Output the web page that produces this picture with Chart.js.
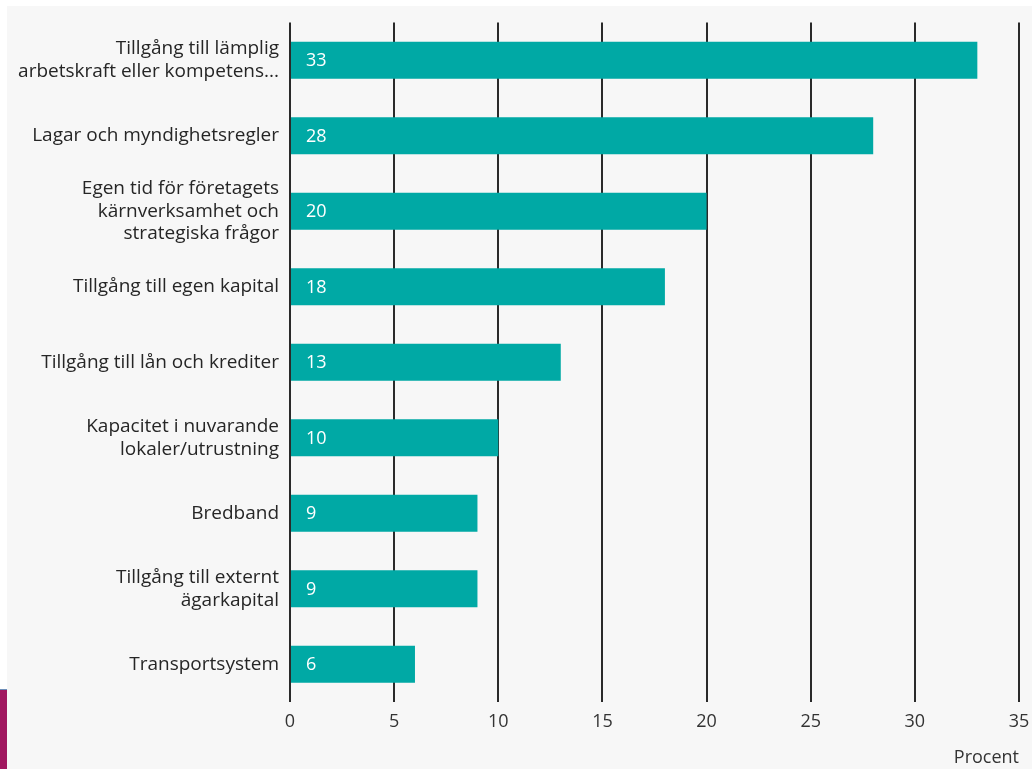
<!DOCTYPE html>
<html>
<head>
<meta charset="utf-8">
<script src="https://cdn.jsdelivr.net/npm/chart.js@4.4.1/dist/chart.umd.min.js"></script>
<style>
  html, body { margin: 0; padding: 0; background: #fff; }
  #wrap { position: relative; width: 1032px; height: 769px; overflow: hidden; }
  #panel { position: absolute; left: 7px; top: 6px; right: 0; bottom: 0; background: #f7f7f7; }
  #strip { position: absolute; left: 0; top: 689px; width: 7px; height: 80px; background: #a0175f; border-top: 1px solid #6f8fb8; }
  canvas { position: absolute; left: 0; top: 0; }
</style>
</head>
<body>
<div id="wrap">
  <div id="panel"></div>
  <div id="strip"></div>
  <canvas id="obstacleChart" width="1032" height="769"></canvas>
</div>
<script>
// categories (multi-line labels as arrays)
const categories = [
    ["Tillgång till lämplig", "arbetskraft eller kompetens..."],
    "Lagar och myndighetsregler",
    ["Egen tid för företagets", "kärnverksamhet och", "strategiska frågor"],
    "Tillgång till egen kapital",
    "Tillgång till lån och krediter",
    ["Kapacitet i nuvarande", "lokaler/utrustning"],
    "Bredband",
    ["Tillgång till externt", "ägarkapital"],
    "Transportsystem"
];
const values = [33, 28, 20, 18, 13, 10, 9, 9, 6];
const xTicks = [0, 5, 10, 15, 20, 25, 30, 35];
const axisTitle = "Procent";

const FONT = "'Open Sans', 'DejaVu Sans', sans-serif";

// white value labels inside the bars
const valueLabels = {
    id: 'valueLabels',
    afterDatasetsDraw(chart) {
        const ctx = chart.ctx;
        const meta = chart.getDatasetMeta(0);
        ctx.save();
        ctx.fillStyle = '#ffffff';
        ctx.font = '18px ' + FONT;
        ctx.textAlign = 'left';
        ctx.textBaseline = 'middle';
        meta.data.forEach((bar, i) => {
            ctx.fillText(String(values[i]), bar.base + 15, bar.y + 1);
        });
        ctx.restore();
    }
};

new Chart(document.getElementById('obstacleChart'), {
    type: 'bar',
    data: {
        labels: categories,
        datasets: [{
            data: values,
            backgroundColor: '#00a9a5',
            borderWidth: 0,
            barPercentage: 0.49,
            categoryPercentage: 1.0
        }]
    },
    plugins: [valueLabels],
    options: {
        indexAxis: 'y',
        responsive: false,
        animation: false,
        layout: { padding: { top: 21, right: 0, left: 0, bottom: 0 } },
        plugins: {
            legend: { display: false },
            tooltip: { enabled: false }
        },
        scales: {
            x: {
                min: 0,
                max: 35,
                afterBuildTicks(scale) {
                    scale.ticks = xTicks.map(v => ({ value: v }));
                },
                afterFit(scale) {
                    scale.height = 67;
                    scale.paddingLeft = 0;
                    scale.paddingRight = 13;
                },
                grid: {
                    color: '#2a2a2a',
                    lineWidth: 2,
                    drawTicks: false
                },
                border: { display: false },
                ticks: {
                    color: '#333333',
                    font: { family: FONT, size: 18 },
                    padding: 9
                },
                title: {
                    display: true,
                    text: axisTitle,
                    align: 'end',
                    color: '#333333',
                    font: { family: FONT, size: 18 },
                    padding: { top: 4, bottom: 0 }
                }
            },
            y: {
                afterFit(scale) { scale.width = 290; },
                grid: { display: false, drawTicks: false },
                border: { display: false },
                ticks: {
                    color: '#262626',
                    font: { family: FONT, size: 19, lineHeight: 1.2 },
                    padding: 11,
                    autoSkip: false
                }
            }
        }
    }
});
</script>
</body>
</html>
